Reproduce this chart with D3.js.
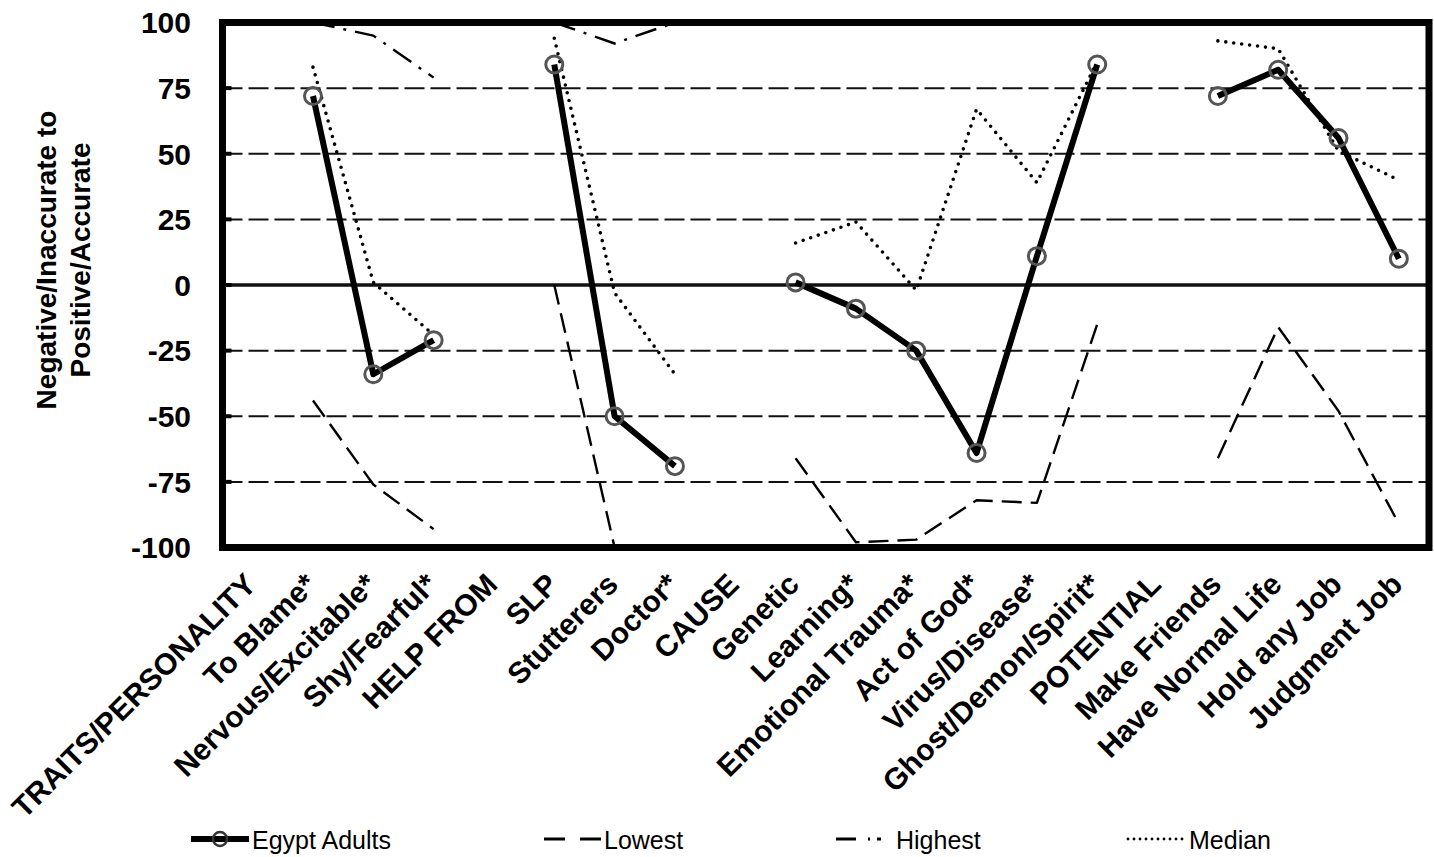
<!DOCTYPE html>
<html>
<head>
<meta charset="utf-8">
<script src="https://cdn.jsdelivr.net/npm/d3@7"></script>
<style>
  body { margin: 0; background: #fff; }
  text { font-family: Arial, "Liberation Sans", sans-serif; fill: #000; }
</style>
</head>
<body>
<svg id="chart" width="1434" height="857"></svg>
<script>
// categories along the x axis (headers have no values)
const categories = ["TRAITS/PERSONALITY", "To Blame*", "Nervous/Excitable*", "Shy/Fearful*", "HELP FROM",
  "SLP", "Stutterers", "Doctor*", "CAUSE", "Genetic", "Learning*", "Emotional Trauma*", "Act of God*",
  "Virus/Disease*", "Ghost/Demon/Spirit*", "POTENTIAL", "Make Friends", "Have Normal Life", "Hold any Job", "Judgment Job"];

const egyptAdults = [null, 72, -34, -21, null, 84, -50, -69, null, 1, -9, -25, -64, 11, 84, null, 72, 82, 56, 10];
const lowest      = [null, -44, -76, -93, null, 0, -100, -100, null, -66, -98, -97, -82, -83, -15, null, -66, -16, -48, -91];
const highest     = [null, 100, 95, 79, null, 100, 92, 100, null, 100, 100, 100, 100, 100, 100, null, 100, 100, 100, 100];
const median      = [null, 83, 1, -19, null, 94, -3, -34, null, 16, 24, -2, 67, 39, 85, null, 93, 90, 51, 40];

const yTicks = [100, 75, 50, 25, 0, -25, -50, -75, -100];

const svg = d3.select("#chart");

const plotLeft = 222.5, plotRight = 1429, plotTop = 22.5, plotBottom = 547.5;

const x = d3.scaleBand()
  .domain(categories)
  .range([plotLeft, plotRight])
  .padding(0);

const y = d3.scaleLinear()
  .domain([-100, 100])
  .range([plotBottom, plotTop]);

const cx = d => x(d) + x.bandwidth() / 2;

// gridlines
svg.append("g")
  .selectAll("line")
  .data(yTicks.filter(t => t !== 100 && t !== -100))
  .enter()
  .append("line")
  .attr("x1", plotLeft)
  .attr("x2", plotRight)
  .attr("y1", d => y(d))
  .attr("y2", d => y(d))
  .attr("stroke", "#111")
  .attr("stroke-width", d => d === 0 ? 3.5 : 2)
  .attr("stroke-dasharray", d => d === 0 ? null : "20,6");

// small inner ticks on the left border
svg.append("g")
  .selectAll("line")
  .data(yTicks)
  .enter()
  .append("line")
  .attr("x1", plotLeft)
  .attr("x2", plotLeft + 9)
  .attr("y1", d => y(d))
  .attr("y2", d => y(d))
  .attr("stroke", "#000")
  .attr("stroke-width", 4);

// y tick labels
svg.append("g")
  .selectAll("text")
  .data(yTicks)
  .enter()
  .append("text")
  .attr("x", 191)
  .attr("y", d => y(d))
  .attr("dy", "0.36em")
  .attr("text-anchor", "end")
  .style("font-size", "30px")
  .style("font-weight", "bold")
  .text(d => d);

// y axis title
const yTitle = svg.append("text")
  .attr("transform", "translate(0,260) rotate(-90)")
  .attr("text-anchor", "middle")
  .style("font-size", "28px")
  .style("font-weight", "bold");
yTitle.append("tspan").attr("x", 0).attr("y", 56).text("Negative/Inaccurate to");
yTitle.append("tspan").attr("x", 0).attr("y", 90).text("Positive/Accurate");

// x labels
svg.append("g")
  .selectAll("text")
  .data(categories)
  .enter()
  .append("text")
  .attr("transform", d => `translate(${cx(d) - 10},571) rotate(-45)`)
  .attr("text-anchor", "end")
  .attr("dy", "0.72em")
  .style("font-size", "30px")
  .style("font-weight", "bold")
  .text(d => d);

// series
const line = d3.line()
  .defined(d => d.v !== null)
  .x(d => cx(d.c))
  .y(d => y(d.v));

const toPoints = arr => categories.map((c, i) => ({ c: c, v: arr[i] }));

const series = [
  { name: "Lowest", values: lowest, width: 2.4, dash: "20,9", cap: "butt" },
  { name: "Highest", values: highest, width: 2.4, dash: "22,9,3,9", cap: "butt" },
  { name: "Median", values: median, width: 3.6, dash: "0,8", cap: "round" },
  { name: "Egypt Adults", values: egyptAdults, width: 6, dash: null, cap: "butt" }
];

svg.append("g")
  .selectAll("path")
  .data(series)
  .enter()
  .append("path")
  .attr("d", d => line(toPoints(d.values)))
  .attr("fill", "none")
  .attr("stroke", "#000")
  .attr("stroke-width", d => d.width)
  .attr("stroke-dasharray", d => d.dash)
  .attr("stroke-linecap", d => d.cap)
  .attr("stroke-linejoin", "round");

svg.append("g")
  .selectAll("circle")
  .data(toPoints(egyptAdults).filter(d => d.v !== null))
  .enter()
  .append("circle")
  .attr("cx", d => cx(d.c))
  .attr("cy", d => y(d.v))
  .attr("r", 8.5)
  .attr("fill", "none")
  .attr("stroke", "#555")
  .attr("stroke-width", 3);

// plot border (drawn last, it covers values sitting on 100 / -100)
svg.append("rect")
  .attr("x", plotLeft)
  .attr("y", plotTop)
  .attr("width", plotRight - plotLeft)
  .attr("height", plotBottom - plotTop)
  .attr("fill", "none")
  .attr("stroke", "#000")
  .attr("stroke-width", 7);

// legend
const legendItems = [
  { name: "Egypt Adults", x1: 191, x2: 249, width: 6, dash: null, cap: "butt", marker: true },
  { name: "Lowest", x1: 544, x2: 601, width: 3, dash: "21,15", cap: "butt" },
  { name: "Highest", x1: 836, x2: 893, width: 3, dash: "20,12,2,7,4", cap: "butt" },
  { name: "Median", x1: 1128, x2: 1186, width: 2.8, dash: "0,6", cap: "round" }
];

const legend = svg.append("g");
legendItems.forEach(item => {
  legend.append("line")
    .attr("x1", item.x1)
    .attr("x2", item.x2)
    .attr("y1", 839)
    .attr("y2", 839)
    .attr("stroke", "#000")
    .attr("stroke-width", item.width)
    .attr("stroke-dasharray", item.dash)
    .attr("stroke-linecap", item.cap);
  if (item.marker) {
    legend.append("circle")
      .attr("cx", (item.x1 + item.x2) / 2)
      .attr("cy", 839)
      .attr("r", 7)
      .attr("fill", "none")
      .attr("stroke", "#333")
      .attr("stroke-width", 2.5);
  }
  legend.append("text")
    .attr("x", item.x2 + 3)
    .attr("y", 849)
    .style("font-size", "25px")
    .text(item.name);
});
</script>
</body>
</html>
